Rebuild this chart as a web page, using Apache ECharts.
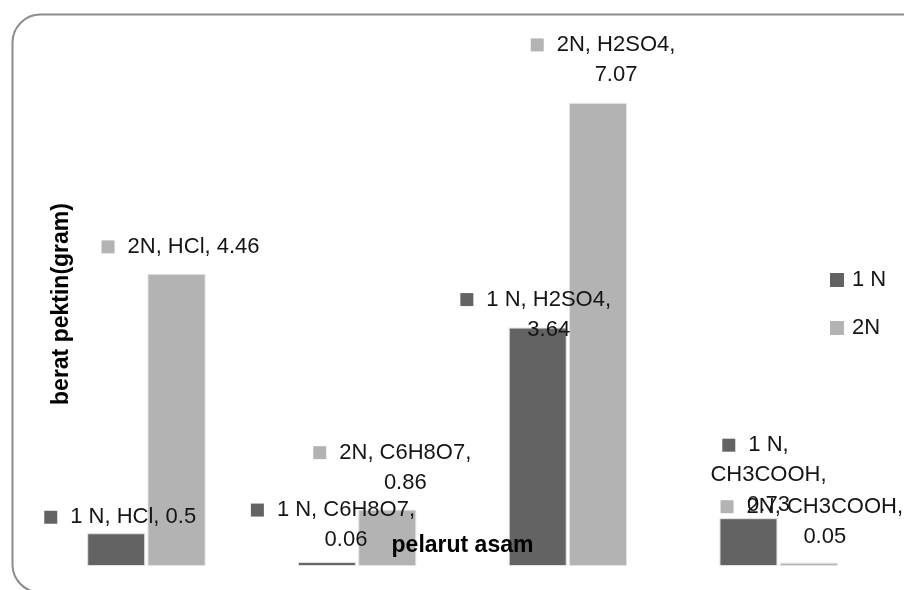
<!DOCTYPE html>
<html>
<head>
<meta charset="utf-8">
<script src="https://cdn.jsdelivr.net/npm/echarts@6/dist/echarts.min.js"></script>
<style>
html,body{margin:0;padding:0;background:#fff;}
#chart{width:904px;height:590px;}
</style>
</head>
<body>
<div id="chart"></div>
<script>
// ---- data ----
const categories = ['HCl', 'C6H8O7', 'H2SO4', 'CH3COOH'];
const seriesNames = ['1 N', '2N'];
const values1N = [0.5, 0.06, 3.64, 0.73];
const values2N = [4.46, 0.86, 7.07, 0.05];
const yAxisTitle = 'berat pektin(gram)';
const xAxisTitle = 'pelarut asam';

// ---- layout / style config ----
const colors = ['#636363', '#b3b3b3'];
const FONT = '"Liberation Sans", Arial, sans-serif';
// number of text lines per data label (Excel-style wrapping)
const labelLines = [[1, 2, 2, 3], [1, 2, 2, 2]];
// manual label offsets [dx, dy] relative to bar top center
const labelOffsets = [
  [[4, -1], [6, -7], [-2, 17], [7, 2]],
  [[4, -12], [5, -12], [5, -13], [3, -11]]
];

function buildLabel(seriesIdx, dataIdx, value) {
  const sName = seriesNames[seriesIdx];
  const cat = categories[dataIdx];
  const n = labelLines[seriesIdx][dataIdx];
  let lines;
  if (n === 1) lines = [sName + ', ' + cat + ', ' + value];
  else if (n === 2) lines = [sName + ', ' + cat + ',', String(value)];
  else lines = [sName + ',', cat + ',', String(value)];
  return lines.map((l, i) => (i === 0 ? '{sq|}{g|}' : '{gg|}') + '{t|' + l + '}').join('\n');
}

function makeSeries(idx, values) {
  return {
    name: seriesNames[idx],
    type: 'bar',
    barWidth: 58,
    barGap: '4%',
    itemStyle: {
      color: colors[idx],
      borderColor: '#e2e2e2',
      borderWidth: 1
    },
    data: values.map((v, i) => ({
      value: v,
      label: {
        show: true,
        position: 'top',
        distance: 0,
        offset: labelOffsets[idx][i],
        formatter: () => buildLabel(idx, i, v),
        rich: {
          sq: { width: 13, height: 13, lineHeight: 30, backgroundColor: colors[idx] },
          g: { width: 13, height: 13, lineHeight: 30 },
          gg: { width: 26, height: 13, lineHeight: 30 },
          t: { fontSize: 22, lineHeight: 30, align: 'center', color: '#151515', fontFamily: FONT }
        }
      }
    })),
    z: 2
  };
}

const chart = echarts.init(document.getElementById('chart'), null, { renderer: 'canvas' });
chart.setOption({
  animation: false,
  backgroundColor: '#ffffff',
  grid: { left: 41, right: 20, top: 42, bottom: 24, containLabel: false },
  xAxis: {
    type: 'category',
    data: categories,
    z: 10,
    axisLine: { show: false },
    axisTick: { show: false },
    axisLabel: { show: false },
    name: xAxisTitle,
    nameLocation: 'middle',
    nameGap: -32,
    nameTextStyle: { fontSize: 23, fontWeight: 'bold', color: '#000', fontFamily: FONT }
  },
  yAxis: {
    type: 'value',
    min: 0,
    max: 8,
    interval: 1,
    splitLine: { show: false },
    axisLine: { show: false },
    axisTick: { show: false },
    axisLabel: { show: false },
    name: yAxisTitle,
    nameLocation: 'middle',
    nameGap: -32,
    nameTextStyle: { fontSize: 23, fontWeight: 'bold', color: '#000', fontFamily: FONT }
  },
  legend: {
    orient: 'vertical',
    left: 830,
    top: 266,
    padding: 0,
    itemWidth: 14,
    itemHeight: 14,
    itemGap: 20,
    icon: 'rect',
    itemStyle: { borderWidth: 0 },
    textStyle: { fontSize: 22, lineHeight: 28, color: '#151515', fontFamily: FONT, padding: [0, 0, 0, 3] },
    data: seriesNames
  },
  graphic: [{
    type: 'rect',
    left: 10, top: 12,
    shape: { width: 920, height: 578, r: 28 },
    style: { fill: 'none', stroke: '#8c8c8c', lineWidth: 2 },
    silent: true,
    z: -1
  }],
  series: [makeSeries(0, values1N), makeSeries(1, values2N)]
});
</script>
</body>
</html>
